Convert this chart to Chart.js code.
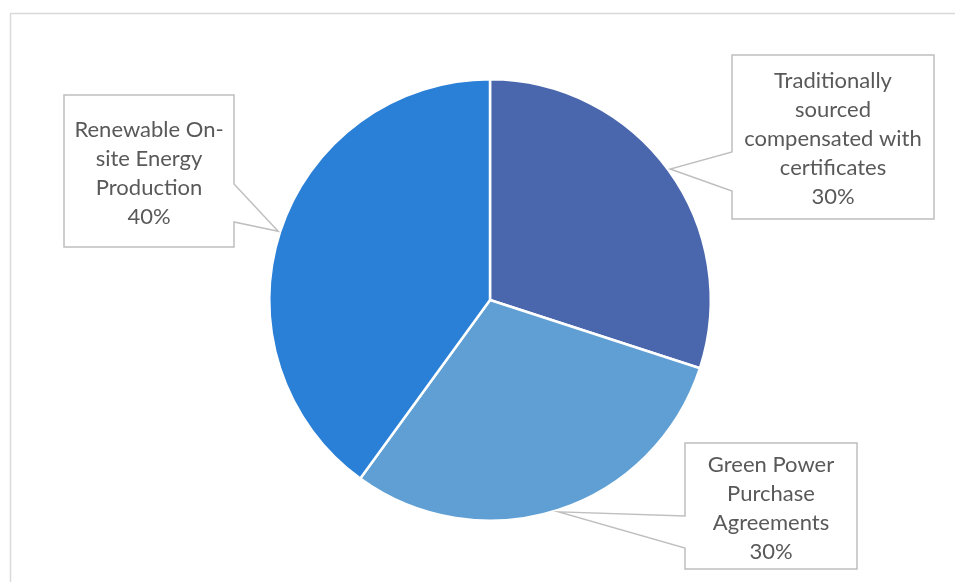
<!DOCTYPE html>
<html>
<head>
<meta charset="utf-8">
<script src="https://cdn.jsdelivr.net/npm/chart.js@4.4.0/dist/chart.umd.min.js"></script>
<style>
html,body{margin:0;padding:0;background:#fff;}
canvas{display:block;}
</style>
</head>
<body>
<canvas id="c" width="955" height="582"></canvas>
<script>
// ---- data ----
const categories = [
  "Traditionally sourced compensated with certificates",
  "Green Power Purchase Agreements",
  "Renewable On-site Energy Production"
];
const shares = [30, 30, 40];
const labelLines = [
  ["Traditionally", "sourced", "compensated with", "certificates"],
  ["Green Power", "Purchase", "Agreements"],
  ["Renewable On-", "site Energy", "Production"]
];
const colors = ["#4A67AE", "#5F9FD3", "#2A7FD7"];

// ---- callout layout (positions only) ----
const boxes = [
  {l: 732, t: 55, r: 934, b: 219, side: "left", j1: 152, j2: 191},
  {l: 685, t: 443, r: 857, b: 569, side: "left", j1: 516, j2: 548},
  {l: 64, t: 95, r: 234, b: 247, side: "right", j1: 184, j2: 222}
];

const FONT = '22px "Lato", "Open Sans", sans-serif';
const LINE_H = 29;

const calloutPlugin = {
  id: 'callouts',
  beforeDraw(chart) {
    const ctx = chart.ctx;
    ctx.save();
    ctx.strokeStyle = '#D9D9D9';
    ctx.lineWidth = 1.5;
    ctx.strokeRect(10.5, 13.5, 1000, 1000);
    ctx.restore();
  },
  afterDatasetsDraw(chart) {
    const ctx = chart.ctx;
    const meta = chart.getDatasetMeta(0);
    const total = shares.reduce((a, b) => a + b, 0);
    meta.data.forEach((arc, i) => {
      const p = arc.getProps(['x', 'y', 'startAngle', 'endAngle', 'outerRadius'], true);
      const mid = (p.startAngle + p.endAngle) / 2;
      const tx = p.x + Math.cos(mid) * (p.outerRadius + 2);
      const ty = p.y + Math.sin(mid) * (p.outerRadius + 2);
      const bx = boxes[i];
      ctx.save();
      ctx.beginPath();
      if (bx.side === 'left') {
        ctx.moveTo(bx.l, bx.t);
        ctx.lineTo(bx.r, bx.t);
        ctx.lineTo(bx.r, bx.b);
        ctx.lineTo(bx.l, bx.b);
        ctx.lineTo(bx.l, bx.j2);
        ctx.lineTo(tx, ty);
        ctx.lineTo(bx.l, bx.j1);
      } else {
        ctx.moveTo(bx.l, bx.t);
        ctx.lineTo(bx.r, bx.t);
        ctx.lineTo(bx.r, bx.j1);
        ctx.lineTo(tx, ty);
        ctx.lineTo(bx.r, bx.j2);
        ctx.lineTo(bx.r, bx.b);
        ctx.lineTo(bx.l, bx.b);
      }
      ctx.closePath();
      ctx.fillStyle = '#FFFFFF';
      ctx.fill();
      ctx.strokeStyle = '#BFBFBF';
      ctx.lineWidth = 1.5;
      ctx.stroke();

      const lines = labelLines[i].concat([Math.round(shares[i] / total * 100) + '%']);
      ctx.fillStyle = '#595959';
      ctx.font = FONT;
      ctx.textAlign = 'center';
      ctx.textBaseline = 'middle';
      const cx = (bx.l + bx.r) / 2;
      const cy = (bx.t + bx.b) / 2;
      lines.forEach((ln, k) => {
        const y = cy + (k - (lines.length - 1) / 2) * LINE_H + 2;
        ctx.fillText(ln, cx, y);
      });
      ctx.restore();
    });
  }
};

new Chart(document.getElementById('c'), {
  type: 'pie',
  data: {
    labels: categories,
    datasets: [{
      data: shares,
      backgroundColor: colors,
      borderColor: '#FFFFFF',
      borderWidth: 2.5
    }]
  },
  options: {
    responsive: false,
    animation: false,
    layout: {padding: {left: 268, right: 243, top: 78, bottom: 60}},
    plugins: {
      legend: {display: false},
      tooltip: {enabled: false}
    }
  },
  plugins: [calloutPlugin]
});
</script>
</body>
</html>
